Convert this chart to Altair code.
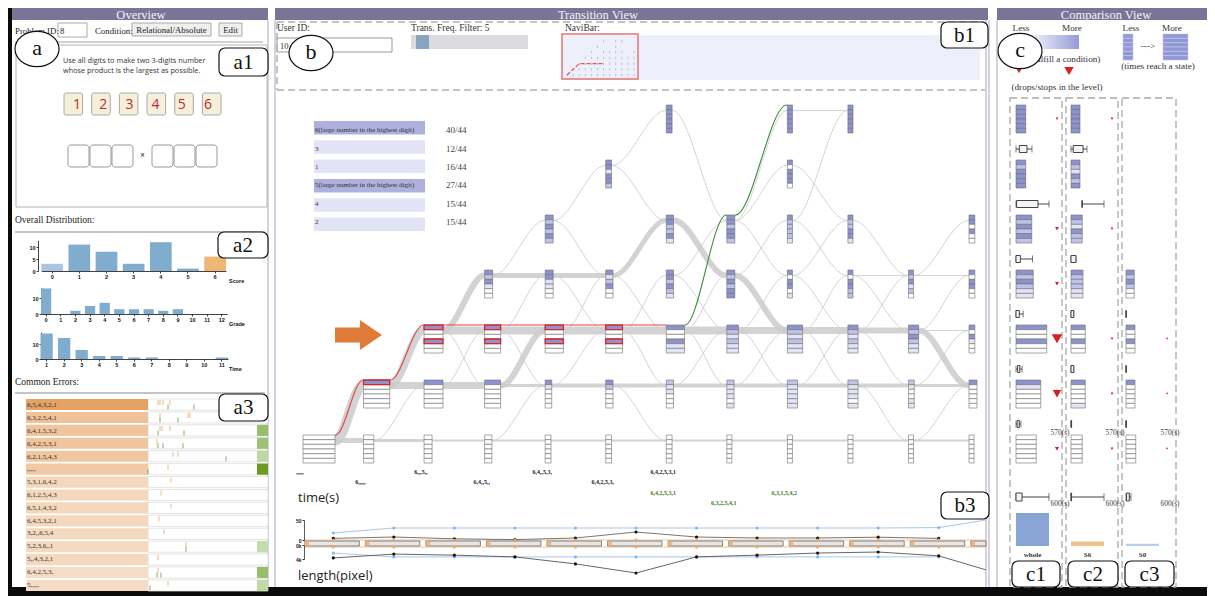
import altair as alt
import pandas as pd

# ============================== DATA ==============================
score_bins = ["0", "1", "2", "3", "4", "5", "6"]
score_counts = [3, 11, 8, 3, 12, 1, 6]
grade_bins = ["0", "1", "2", "3", "4", "5", "6", "7", "8", "9", "10", "11", "12"]
grade_counts = [16, 0, 2, 5, 7, 3, 3, 3, 2, 3, 0, 0, 0]
time_bins = ["1", "2", "3", "4", "5", "6", "7", "8", "9", "10", "11"]
time_counts = [17, 14, 6, 2, 2, 1, 1, 0, 0, 0, 1]

problem_digits = ["1", "2", "3", "4", "5", "6"]

error_labels = ["6,5,4,3,2,1", "6,3,2,5,4,1", "6,4,1,5,3,2", "6,4,2,5,3,1",
                "6,2,1,5,4,3", ",,,,,", "5,3,1,6,4,2", "6,1,2,5,4,3",
                "6,5,1,4,3,2", "6,4,5,3,2,1", "3,2,,6,5,4", "5,2,3,6,,1",
                "5,,4,3,2,1", "6,4,2,5,3,", "5,,,,,"]
error_freq = [30, 18, 17, 17, 16, 15, 10, 10, 10, 10, 9, 9, 9, 8, 8]
error_fix = [None, None, 0.55, 0.5, 0.2, 1.0, None, None, None, None, None, 0.15, None, 0.55, 0.18]
error_tick_row = [0, 0, 0, 0, 0, 0, 1, 1, 1, 1, 1, 2, 2, 2, 2, 2, 3, 3, 3, 3, 4, 4, 4,
                  5, 5, 6, 7, 8, 9, 10, 11, 11, 12, 13, 13, 13, 14, 14]
error_tick_time = [10, 12, 15, 22, 20, 46, 12, 40, 42, 12, 30, 12, 14, 22, 10, 36, 9, 10, 15, 35,
                   25, 30, 78, 20, 0, 23, 13, 23, 11, 16, 38, 38, 10, 10, 9, 13, 20, 2]
error_tick_kind = ["o", "o", "o", "o", "g", "g", "o", "o", "o", "g", "g", "o", "o", "o", "g", "g",
                   "o", "g", "g", "g", "o", "o", "g", "o", "g", "o", "o", "o", "o", "o", "o", "g",
                   "o", "o", "g", "g", "o", "g"]

hint_items = ["6(large number in the highest digit)", "3", "1",
              "5(large number in the highest digit)", "4", "2"]
hint_hits = [40, 12, 16, 27, 15, 15]
hint_total = 44

# (step, level, users, cell shades top->bottom)
transition_nodes = [
    (0, 0, 44, "000000"),
    (1, 0, 14, "000000"), (1, 1, 36, "300000"),
    (2, 0, 11, "000000"), (2, 1, 26, "300000"), (2, 2, 26, "300300"),
    (3, 0, 10, "000000"), (3, 1, 22, "300000"), (3, 2, 22, "300300"), (3, 3, 11, "323100"),
    (4, 0, 8, "000000"), (4, 1, 9, "310000"), (4, 2, 25, "300300"), (4, 3, 11, "331100"), (4, 4, 11, "323232"),
    (5, 0, 8, "000000"), (5, 1, 10, "320000"), (5, 2, 23, "300300"), (5, 3, 10, "312300"), (5, 5, 8, "331332"),
    (6, 0, 8, "000000"), (6, 1, 10, "211000"), (6, 2, 25, "300311"), (6, 3, 10, "332321"), (6, 4, 10, "332231"), (6, 6, 8, "333333"),
    (7, 0, 7, "000000"), (7, 1, 10, "211101"), (7, 2, 16, "321211"), (7, 3, 11, "323233"), (7, 4, 11, "332332"),
    (8, 0, 7, "000000"), (8, 1, 14, "211111"), (8, 2, 21, "321211"), (8, 3, 7, "303301"), (8, 4, 7, "322221"), (8, 5, 7, "303330"), (8, 6, 7, "333333"),
    (9, 0, 7, "000000"), (9, 1, 14, "211101"), (9, 2, 14, "321211"), (9, 3, 7, "303322"), (9, 4, 7, "322331"), (9, 6, 7, "333333"),
    (10, 0, 7, "000000"), (10, 1, 8, "210011"), (10, 2, 14, "323211"), (10, 3, 7, "323120"),
    (11, 0, 7, "000000"), (11, 1, 11, "300000"), (11, 2, 8, "303100"), (11, 3, 8, "303300"), (11, 4, 8, "330300"),
]
# (step, from level, to level, users on the transition)
transition_links = [
    (0, 0, 1, 10), (0, 0, 0, 5),
    (1, 1, 2, 8), (1, 1, 1, 7), (1, 0, 0, 3),
    (2, 2, 2, 8), (2, 1, 1, 7), (2, 2, 3, 6), (2, 0, 0, 2),
    (3, 2, 2, 8), (3, 1, 2, 6), (3, 1, 1, 3), (3, 3, 3, 5), (3, 0, 0, 2),
    (4, 2, 2, 8), (4, 1, 1, 4), (4, 3, 3, 5), (4, 0, 0, 2),
    (5, 2, 2, 8), (5, 1, 1, 4), (5, 3, 4, 5), (5, 0, 0, 2),
    (6, 2, 2, 8), (6, 1, 1, 4), (6, 4, 3, 6), (6, 0, 0, 2),
    (7, 2, 2, 7), (7, 1, 1, 4), (7, 3, 2, 6), (7, 0, 0, 2),
    (8, 2, 2, 7), (8, 1, 1, 4), (8, 0, 0, 2),
    (9, 2, 2, 6), (9, 1, 1, 4), (9, 0, 0, 2),
    (10, 2, 1, 6), (10, 1, 1, 3), (10, 0, 0, 2),
    (1, 0, 1, 1), (2, 1, 2, 1), (2, 2, 1, 1), (3, 2, 3, 1), (3, 2, 1, 1), (3, 3, 4, 1), (3, 0, 1, 1),
    (4, 2, 3, 1), (4, 3, 2, 1), (4, 4, 5, 1), (4, 4, 3, 1), (4, 1, 2, 1),
    (5, 2, 1, 1), (5, 2, 3, 1), (5, 5, 6, 1), (5, 5, 4, 1), (5, 3, 2, 1), (5, 1, 0, 1),
    (6, 2, 3, 1), (6, 3, 4, 1), (6, 1, 2, 1), (6, 6, 4, 1), (6, 3, 2, 1), (6, 2, 1, 1),
    (7, 4, 6, 1), (7, 4, 5, 1), (7, 4, 3, 1), (7, 2, 3, 1), (7, 1, 2, 1), (7, 3, 4, 1), (7, 2, 1, 1),
    (8, 6, 6, 1), (8, 4, 6, 1), (8, 5, 4, 1), (8, 4, 3, 1), (8, 3, 4, 1), (8, 2, 1, 1), (8, 1, 2, 1),
    (8, 2, 3, 1), (8, 3, 2, 1),
    (9, 4, 3, 1), (9, 3, 2, 1), (9, 2, 3, 1), (9, 1, 0, 1), (9, 3, 3, 1), (9, 2, 1, 1),
    (10, 3, 4, 1), (10, 2, 2, 1), (10, 1, 2, 1), (10, 3, 3, 1), (10, 0, 1, 1), (10, 2, 3, 1),
]
user_path = [(0, 0, 1), (1, 1, 2), (2, 2, 2), (3, 2, 2), (4, 2, 2), (5, 2, 2)]
user_path_cells = [(1, 1, 0), (2, 2, 0), (2, 2, 3), (3, 2, 0), (3, 2, 3), (4, 2, 0), (4, 2, 3), (5, 2, 0), (5, 2, 3)]
answer_path = [(6, 2, 4), (7, 4, 6)]

state_step = [0, 1, 2, 3, 4, 5, 6, 6, 7, 8]
state_text = [",,,,,", "6,,,,,", "6,,,5,,", "6,4,,5,,", "6,4,,5,3,", "6,4,2,5,3,",
              "6,4,2,5,3,1", "6,4,2,5,3,1", "6,3,2,5,4,1", "6,3,1,5,4,2"]
state_lane = [0, 1, 0, 1, 0, 1, 0, 2, 3, 2]
state_final = [False, False, False, False, False, False, False, True, True, True]

step_pos = [0.5, 1.5, 2.5, 3.5, 4.5, 5.5, 6.5, 7.5, 8.5, 9.5, 10.5, 11.28]
time_mean = [17.5, 30, 30, 30, 30, 30, 30, 30, 30, 30, 31, 50]
time_user = [4, 7.5, 3, 1, 5, 20, 7.5, 5, 5, 7, 4]
len_mean = [2.3, 3.4, 3.4, 3.4, 3.4, 3.4, 3.4, 3.4, 3.4, 3.4, 3.4]
len_user = [3.7, 2.6, 2.9, 3.4, 5.4, 8.0, 3.4, 2.9, 2.3, 2.0, 3.1, 7.1]

cmp_groups = ["whole", "S6", "S0"]
cmp_group_size = [44, 6, 3]
cmp_stack_group = [0, 0, 0, 0, 0, 0, 0, 1, 1, 1, 1, 1, 1, 1, 2, 2, 2, 2]
cmp_stack_level = [6, 5, 4, 3, 2, 1, 0, 6, 5, 4, 3, 2, 1, 0, 3, 2, 1, 0]
cmp_stack_visits = [13, 13, 21, 23, 41, 33, 27, 12, 12, 15, 16, 19, 19, 15, 11, 12, 12, 13]
cmp_stack_cells = ["333333", "323333", "323232", "323211", "300300", "310000", "000000",
                   "333333", "321323", "321322", "322211", "300300", "300001", "000000",
                   "323200", "300300", "300000", "000000"]
cmp_box_group = [0, 0, 0, 0, 0, 0, 1, 1, 1, 1, 1, 1, 2, 2, 2]
cmp_box_level = [5, 4, 3, 2, 1, 0, 5, 4, 3, 2, 1, 0, 2, 1, 0]
cmp_box_min = [0, 0, 0, 0, 0, 0, 0, 200, 0, 0, 0, 0, 0, 0, 0]
cmp_box_q1 = [60, 10, 0, 0, 30, 20, 40, 200, 0, 0, 0, 0, 0, 0, 0]
cmp_box_q3 = [200, 400, 80, 60, 70, 60, 220, 205, 90, 50, 50, 10, 5, 5, 5]
cmp_box_max = [290, 600, 300, 130, 110, 90, 290, 600, 90, 50, 50, 10, 5, 5, 5]
cmp_total_min = [0, 0, 0]
cmp_total_q1 = [0, 0, 10]
cmp_total_q3 = [110, 10, 60]
cmp_total_max = [600, 600, 90]
cmp_drop_group = [0, 0, 0, 0, 0, 0, 1, 1, 1, 1, 1, 2, 2, 2]
cmp_drop_level = [6, 4, 3, 2, 1, 0, 6, 4, 2, 1, 0, 2, 1, 0]
cmp_drop_count = [0.4, 0.8, 0.8, 6, 4, 1, 0.4, 0.4, 0.4, 0.4, 0.4, 0.3, 0.3, 0.3]
cmp_level_time = "570(s)"
cmp_total_time = "600(s)"

# ============================== STYLE / LAYOUT ==============================
W, H = 1199, 588
SERIF, SANS, ARIAL = "Liberation Serif", "Open Sans", "Liberation Sans"
PANEL, EDGE = "#7a7496", "#a8a5bf"
SHADES = ["#ffffff", "#e3e5f6", "#bfc3ea", "#8d93cf"]


def px(v):
    return v - 8


def py(v):
    return v - 8


layers = []


def add(*cs):
    layers.extend(cs)


def _frame(rows, cols, xs, ys):
    df = pd.DataFrame(rows, columns=cols)
    for c in xs:
        df[c] = df[c] - 8
    for c in ys:
        df[c] = df[c] - 8
    return df


def XI(f):
    return alt.X(f"{f}:Q", scale=None, axis=None)


def YI(f):
    return alt.Y(f"{f}:Q", scale=None, axis=None)


def boxes(rows, **kw):
    df = _frame(rows, ["x", "y", "x2", "y2"], ["x", "x2"], ["y", "y2"])
    return alt.Chart(df).mark_rect(**kw).encode(x=XI("x"), x2="x2:Q", y=YI("y"), y2="y2:Q")


def segs(rows, **kw):
    df = _frame(rows, ["x", "y", "x2", "y2"], ["x", "x2"], ["y", "y2"])
    return alt.Chart(df).mark_rule(**kw).encode(x=XI("x"), x2="x2:Q", y=YI("y"), y2="y2:Q")


def words(rows, **kw):
    df = _frame(rows, ["x", "y", "t"], ["x"], ["y"])
    return alt.Chart(df).mark_text(**kw).encode(x=XI("x"), y=YI("y"), text="t:N")


def spots(rows, **kw):
    df = _frame(rows, ["x", "y"], ["x"], ["y"])
    return alt.Chart(df).mark_point(**kw).encode(x=XI("x"), y=YI("y"))


def lin(dom, r0, r1):
    return alt.Scale(domain=dom, range=[r0, r1], nice=False, zero=False)


# ---------------- panels ----------------
add(boxes([(12, 8, 268, 20), (275, 8, 988, 20), (997, 8, 1207, 20)], color=PANEL))
add(words([(141, 14.5, "Overview"), (598, 14.5, "Transition View"), (1106, 14.5, "Comparison View")],
          font=SERIF, fontSize=12.5, color="#f4f2fb"))
add(segs([(268, 20, 268, 587), (275, 20, 275, 587), (986, 20, 986, 587), (989, 20, 989, 587),
          (997, 20, 997, 587)], color=EDGE, strokeWidth=1))
add(boxes([(8, 8, 12, 596), (8, 587, 1207, 596)], color="#0b0b0b"))

# ---------------- overview header / problem ----------------
add(boxes([(58, 23, 87, 37)], fill="white", stroke="#aaaaaa", strokeWidth=1))
add(boxes([(132, 23, 211, 36), (219, 23, 242, 36)], fill="#efefef", stroke="#aaaaaa", strokeWidth=1))
add(words([(15, 31, "Problem ID:"), (60, 31, "8"), (95, 31, "Condition:")],
          font=SERIF, fontSize=8.8, color="#222", align="left"))
add(words([(171.5, 30, "Relational/Absolute"), (230.5, 30, "Edit")], font=SERIF, fontSize=8.8, color="#222"))
add(segs([(15, 42, 263, 42)], color="#c2c2c2", strokeWidth=1.5))
add(boxes([(16, 45, 267, 207)], fillOpacity=0, stroke="#b5b5b5", strokeWidth=1))
add(words([(63, 60.5, "Use all digits to make two 3-digits number"),
           (63, 70.5, "whose product is the largest as possible.")],
          font=SANS, fontSize=7.3, color="#333", align="left"))

digit_df = pd.DataFrame({"d": problem_digits})
digit_x = alt.Scale(domain=problem_digits, range=[px(64), px(221)], paddingInner=0.33, paddingOuter=0)
add(alt.Chart(digit_df).mark_rect(fill="#f6f0da", stroke="#a8a8a8", strokeWidth=1, cornerRadius=2).encode(
    x=alt.X("d:N", scale=digit_x, axis=None), y=alt.value(py(93)), y2=alt.value(py(115))))
add(alt.Chart(digit_df).mark_text(font=SANS, fontSize=14, color="#c0282d").encode(
    x=alt.X("d:N", scale=digit_x, axis=None), y=alt.value(py(104.5)), text="d:N"))
add(boxes([(68, 145, 89, 167), (90, 145, 111, 167), (112, 145, 133, 167),
           (152, 145, 173, 167), (174, 145, 195, 167), (196, 145, 217, 167)],
          fill="white", stroke="#999999", strokeWidth=1, cornerRadius=3))
add(words([(142.5, 156, "×")], font=SANS, fontSize=8, fontWeight="bold", color="#555"))

# ---------------- overall distribution ----------------
add(words([(15, 220, "Overall Distribution:"), (15, 382, "Common Errors:")],
          font=SERIF, fontSize=9.5, color="#222", align="left"))
add(segs([(15, 232, 265, 232), (15, 393, 265, 393)], color="#c4c4c4", strokeWidth=2))

AX = dict(labelFont=ARIAL, labelFontSize=5.5, labelFontWeight="bold", labelColor="#111",
          tickSize=2, tickWidth=0.8, tickColor="#111", domainColor="#111", domainWidth=0.8,
          labelPadding=1, grid=False, title=None)


def hist(bins, counts, colors, x0, x1, pad, base, ymax, pxu, yticks, axis_x):
    df = pd.DataFrame({"bin": bins, "n": counts, "c": colors})
    return alt.Chart(df).mark_bar().encode(
        x=alt.X("bin:N", sort=None,
                scale=alt.Scale(domain=bins, range=[px(x0), px(x1)], paddingInner=pad, paddingOuter=0),
                axis=alt.Axis(orient="bottom", offset=py(base) - H, labelAngle=0, **AX)),
        y=alt.Y("n:Q", scale=lin([0, ymax], py(base), py(base - ymax * pxu)),
                axis=alt.Axis(orient="left", offset=-px(axis_x), values=yticks, **AX)),
        color=alt.Color("c:N", scale=None))


score_colors = ["#a9c6e1" if b == "0" else "#efb676" if b == "6" else "#80adcd" for b in score_bins]
add(hist(score_bins, score_counts, score_colors, 41.3, 226, 0.2, 271, 12.8, 2.4, [0, 5, 10], 38))
add(hist(grade_bins, grade_counts, ["#80adcd"] * len(grade_bins), 41, 227, 0.3, 314, 16.5, 1.6, [0, 10], 41))
add(hist(time_bins, time_counts, ["#80adcd"] * len(time_bins), 40.5, 228, 0.3, 359, 18, 1.5, [0, 10], 41))
add(words([(229, 281, "Score"), (229, 324, "Grade"), (229, 369, "Time")],
          font=ARIAL, fontSize=5.5, fontWeight="bold", color="#111", align="left"))

# ---------------- common errors ----------------
err_df = pd.DataFrame({"row": list(range(15)), "label": error_labels, "freq": error_freq, "fix": error_fix})
ERY = alt.Scale(domain=list(range(15)), range=[py(399), py(591)], paddingInner=0.14, paddingOuter=0)
ETX = lin([0, 120], px(148), px(268))
add(alt.Chart(err_df).mark_rect(fill="white", stroke="#dddddd", strokeWidth=0.8).encode(
    x=alt.value(px(148)), x2=alt.value(px(268)), y=alt.Y("row:O", scale=ERY, axis=None)))
add(alt.Chart(err_df).mark_rect().encode(
    x=alt.value(px(26)), x2=alt.value(px(148)), y=alt.Y("row:O", scale=ERY, axis=None),
    color=alt.Color("freq:Q", scale=alt.Scale(domain=[8, 30], range=["#f6dcc4", "#e4a264"]), legend=None)))
add(alt.Chart(err_df.dropna(subset=["fix"])).mark_rect().encode(
    x=alt.value(px(257)), x2=alt.value(px(268)), y=alt.Y("row:O", scale=ERY, axis=None),
    color=alt.Color("fix:Q", scale=alt.Scale(domain=[0, 1], range=["#d3e7c3", "#6b9b22"]), legend=None)))
add(alt.Chart(err_df).mark_text(font=SERIF, fontSize=7, color="#333", align="left").encode(
    x=alt.value(px(27)), y=alt.Y("row:O", scale=ERY, axis=None), text="label:N"))
tick_df = pd.DataFrame({"row": error_tick_row, "t": error_tick_time, "k": error_tick_kind})
add(alt.Chart(tick_df[tick_df.k == "o"]).mark_tick(orient="vertical", size=5, thickness=1.3,
                                                   color="#f0ae74", yOffset=-2).encode(
    x=alt.X("t:Q", scale=ETX, axis=None), y=alt.Y("row:O", scale=ERY, axis=None)))
add(alt.Chart(tick_df[tick_df.k == "g"]).mark_tick(orient="vertical", size=5, thickness=1.3,
                                                   color="#6faa4c", yOffset=2.5).encode(
    x=alt.X("t:Q", scale=ETX, axis=None), y=alt.Y("row:O", scale=ERY, axis=None)))

# ---------------- transition view header ----------------
add(words([(277, 28, "User ID:"), (411, 28, "Trans. Freq. Filter: 5"), (565, 28, "NaviBar:")],
          font=SERIF, fontSize=9.5, color="#333", align="left"))
add(boxes([(277, 38, 392, 52)], fill="white", stroke="#999999", strokeWidth=1))
add(words([(280, 45.5, "10")], font=SERIF, fontSize=8.5, color="#333", align="left"))
add(boxes([(411, 35, 528, 49)], fill="#dcdcde"))
add(boxes([(416, 35, 429, 49)], fill="#89a3c2"))
add(boxes([(562, 35, 980, 80)], fill="#edf0fa"))
add(segs([(277, 22, 985, 22), (277, 90, 985, 90), (277, 22, 277, 90)],
         color="#b0b0b0", strokeWidth=1.5, strokeDash=[7, 4]))

MX = lin([0, 11], px(567), px(634))
MY = lin([0, 6], py(75), py(41))
nodes_df = pd.DataFrame(transition_nodes, columns=["col", "level", "users", "cells"])
add(alt.Chart(nodes_df).mark_tick(orient="vertical", size=2.5, thickness=0.8, color="#9aa0cc").encode(
    x=alt.X("col:Q", scale=MX, axis=None), y=alt.Y("level:Q", scale=MY, axis=None)))
mini_path = pd.DataFrame({"col": [0] + [p[0] + 1 for p in user_path],
                          "level": [0] + [p[2] for p in user_path], "o": list(range(len(user_path) + 1))})
add(alt.Chart(mini_path).mark_line(color="#e0544f", strokeWidth=1.2, strokeDash=[4, 2]).encode(
    x=alt.X("col:Q", scale=MX, axis=None), y=alt.Y("level:Q", scale=MY, axis=None), order="o:Q"))
add(boxes([(562, 34, 638, 79)], fillOpacity=0, stroke="#e57373", strokeWidth=1.5))

# ---------------- hint list ----------------
hint_df = pd.DataFrame({"i": list(range(6)), "item": hint_items, "hit": hint_hits})
hint_df["ratio"] = hint_df["hit"] / hint_total
hint_df["frac"] = [f"{h}/{hint_total}" for h in hint_hits]
HY = alt.Scale(domain=list(range(6)), range=[py(121), py(231)], paddingInner=0.3, paddingOuter=0)
add(alt.Chart(hint_df).mark_rect().encode(
    x=alt.value(px(314)), x2=alt.value(px(425)), y=alt.Y("i:O", scale=HY, axis=None),
    color=alt.Color("ratio:Q", scale=alt.Scale(type="threshold", domain=[0.5],
                                               range=["#e2e4f5", "#aeb1dd"]), legend=None)))
add(alt.Chart(hint_df).mark_text(font=SERIF, fontSize=7, color="#333", align="left").encode(
    x=alt.value(px(315)), y=alt.Y("i:O", scale=HY, axis=None), text="item:N"))
add(alt.Chart(hint_df).mark_text(font=SERIF, fontSize=9, color="#444", align="left").encode(
    x=alt.value(px(446)), y=alt.Y("i:O", scale=HY, axis=None), text="frac:N"))

# ---------------- transition graph ----------------
NX = lin([0, 11], px(303), px(969))
NY = lin([0, 6], py(435), py(105))
COL_PX, LEVEL_PX, CELL_PX, USER_PX = (969 - 303) / 11, 55.0, 4.67, 32 / 44
CELL_U = CELL_PX / LEVEL_PX
node_w = {(c, l): u * USER_PX / COL_PX for c, l, u, _ in transition_nodes}


def curves(triples, weights, yoff):
    # each link: leaves the right side of its node and enters the next step's node
    rows = []
    for k, ((c, la, lb), w) in enumerate(zip(triples, weights)):
        xa, xb = c + node_w.get((c, la), 0.1), c + 1
        ya, yb = la - yoff, lb - yoff
        for j, (x, y) in enumerate([(xa, ya), (xa + 0.01, ya), (xb - 0.01, yb), (xb, yb)]):
            rows.append({"id": k, "ord": j, "x": x, "y": y, "w": w})
    return pd.DataFrame(rows)


def curve_layer(df, **kw):
    return alt.Chart(df).mark_line(interpolate="monotone", strokeCap="butt", **kw).encode(
        x=alt.X("x:Q", scale=NX, axis=None), y=alt.Y("y:Q", scale=NY, axis=None),
        detail="id:N", order="ord:Q", strokeWidth=alt.StrokeWidth("w:Q", scale=None))


thin = [l for l in transition_links if l[3] <= 1]
thick = [l for l in transition_links if l[3] > 1]
thin_df = curves([l[:3] for l in thin], [0.9] * len(thin), 0.1)
thick_df = curves([l[:3] for l in thick], [l[3] for l in thick], 0.1)
add(curve_layer(thin_df, color="#cfcfcf"))
add(curve_layer(thick_df, color="#cbcbcb", opacity=0.85))

cell_rows = []
for c, l, u, s in transition_nodes:
    w = node_w[(c, l)]
    for i, ch in enumerate(s):
        cell_rows.append({"x": c, "x2": c + w, "y": l - i * CELL_U, "y2": l - (i + 1) * CELL_U, "s": ch})
cell_df = pd.DataFrame(cell_rows)
add(alt.Chart(cell_df).mark_rect(stroke="#6f6f6f", strokeWidth=0.6).encode(
    x=alt.X("x:Q", scale=NX, axis=None), x2="x2:Q", y=alt.Y("y:Q", scale=NY, axis=None), y2="y2:Q",
    color=alt.Color("s:N", scale=alt.Scale(domain=["0", "1", "2", "3"], range=SHADES), legend=None)))

red_rows = []
for c, l, i in user_path_cells:
    red_rows.append({"x": c, "x2": c + node_w[(c, l)], "y": l - i * CELL_U, "y2": l - (i + 1) * CELL_U})
add(alt.Chart(pd.DataFrame(red_rows)).mark_rect(fillOpacity=0, stroke="#d8262c", strokeWidth=1.3).encode(
    x=alt.X("x:Q", scale=NX, axis=None), x2="x2:Q", y=alt.Y("y:Q", scale=NY, axis=None), y2="y2:Q"))
add(curve_layer(curves(user_path, [1.1] * len(user_path), 0.0), color="#e0473f"))
add(curve_layer(curves(answer_path, [1.1] * len(answer_path), 0.0), color="#3f8f3a"))

ARROW = "M-1,-0.32L0.06,-0.32L0.06,-0.64L1,0L0.06,0.64L0.06,0.32L-1,0.32Z"
add(spots([(358.5, 335)], shape=ARROW, size=2209, filled=True, fill="#e07b39", strokeWidth=0, opacity=1))

state_df = pd.DataFrame({"col": state_step, "t": state_text, "lane": state_lane,
                         "c": ["#3b7d23" if f else "#222222" for f in state_final]})
add(alt.Chart(state_df).mark_text(font=SERIF, fontSize=6, fontWeight="bold", dx=-3).encode(
    x=alt.X("col:Q", scale=NX, axis=None), y=alt.Y("lane:Q", scale=lin([0, 3], py(472), py(503)), axis=None),
    text="t:N", color=alt.Color("c:N", scale=None)))

# ---------------- time / length strip ----------------
add(words([(298, 498, "time(s)"), (298, 576, "length(pixel)")], font=SANS, fontSize=13, color="#222",
          align="left"))
add(segs([(305, 540, 987, 540), (305, 547, 987, 547)], color="#f3c493", strokeWidth=1.2))
band_df = pd.DataFrame({"i": list(range(12))})
band_df["x"] = band_df["i"] + 0.03
band_df["x2"] = (band_df["i"] + 0.93).clip(upper=11.28)
band_df["o2"] = band_df["i"] + 0.1
add(alt.Chart(band_df).mark_rect(fill="#e6e6e6", stroke="#555555", strokeWidth=0.7).encode(
    x=alt.X("x:Q", scale=NX, axis=None), x2="x2:Q", y=alt.value(py(541)), y2=alt.value(py(546))))
add(alt.Chart(band_df).mark_rect(fill="#f2b27e").encode(
    x=alt.X("x:Q", scale=NX, axis=None), x2="o2:Q", y=alt.value(py(541.5)), y2=alt.value(py(545.5))))

TY = lin([0, 50], py(540), py(520))
LY = lin([0, 4], py(545), py(559))
SAX = dict(labelFont=ARIAL, labelFontSize=5, labelFontWeight="bold", labelColor="#222", tickSize=2,
           tickColor="#333", domainColor="#333", domainWidth=0.8, labelPadding=1, grid=False, title=None)
tm_df = pd.DataFrame({"s": step_pos, "v": time_mean})
add(alt.Chart(tm_df).mark_line(color="#a9c8e6", strokeWidth=1).encode(
    x=alt.X("s:Q", scale=NX, axis=None),
    y=alt.Y("v:Q", scale=TY, axis=alt.Axis(orient="left", offset=-px(304), values=[0, 50], **SAX))))
add(alt.Chart(tm_df.iloc[:11]).mark_point(filled=True, size=10, color="#8fb6de", opacity=1).encode(
    x=alt.X("s:Q", scale=NX, axis=None), y=alt.Y("v:Q", scale=TY, axis=None)))
tu_df = pd.DataFrame({"s": step_pos[:11], "v": time_user})
add(alt.Chart(tu_df).mark_line(color="#555555", strokeWidth=0.8).encode(
    x=alt.X("s:Q", scale=NX, axis=None), y=alt.Y("v:Q", scale=TY, axis=None)))
add(alt.Chart(tu_df).mark_point(filled=True, size=10, color="#111", opacity=1).encode(
    x=alt.X("s:Q", scale=NX, axis=None), y=alt.Y("v:Q", scale=TY, axis=None)))
dots_df = pd.DataFrame({"s": step_pos[:11]})
for yy in (540, 547):
    add(alt.Chart(dots_df).mark_point(filled=True, size=9, color="#f0a860", opacity=1).encode(
        x=alt.X("s:Q", scale=NX, axis=None), y=alt.value(py(yy))))
lm_df = pd.DataFrame({"s": step_pos[:11], "v": len_mean})
add(alt.Chart(lm_df).mark_line(color="#a9c8e6", strokeWidth=1).encode(
    x=alt.X("s:Q", scale=NX, axis=None), y=alt.Y("v:Q", scale=LY, axis=None)))
add(alt.Chart(lm_df).mark_point(filled=True, size=10, color="#8fb6de", opacity=1).encode(
    x=alt.X("s:Q", scale=NX, axis=None), y=alt.Y("v:Q", scale=LY, axis=None)))
lu_df = pd.DataFrame({"s": step_pos, "v": len_user})
add(alt.Chart(lu_df).mark_line(color="#555555", strokeWidth=0.9).encode(
    x=alt.X("s:Q", scale=NX, axis=None),
    y=alt.Y("v:Q", scale=LY, axis=alt.Axis(orient="left", offset=-px(304), values=[0, 4],
                                           labelExpr="datum.value + 'k'", **SAX))))
add(alt.Chart(lu_df.iloc[:11]).mark_point(filled=True, size=10, color="#111", opacity=1).encode(
    x=alt.X("s:Q", scale=NX, axis=None), y=alt.Y("v:Q", scale=LY, axis=None)))

# ---------------- comparison view ----------------
add(words([(1021, 28, "Less"), (1072, 28, "More"), (1131, 28, "Less"), (1172, 28, "More"),
           (1148, 46, "--->"), (1158, 66, "(times reach a state)"), (1057, 87, "(drops/stops in the level)")],
          font=SERIF, fontSize=9.2, color="#333"))
add(words([(1030, 59, "(fulfill a condition)")], font=SERIF, fontSize=9.2, color="#333", align="left"))
grad = alt.LinearGradient(gradient="linear", x1=0, x2=1, y1=0, y2=0,
                          stops=[alt.GradientStop(color="#f4f5fc", offset=0),
                                 alt.GradientStop(color="#959bd6", offset=1)])
add(boxes([(1030, 35, 1079, 49)], fill=grad))
leg_cells = []
for x0, x1 in ((1123, 1133), (1163, 1188)):
    for i in range(6):
        leg_cells.append((x0, 34 + i * 26 / 6, x1, 34 + (i + 1) * 26 / 6))
add(boxes(leg_cells, fill="#8f97d4", stroke="#c3c7ee", strokeWidth=0.6))
add(spots([(1019, 71)], shape="triangle-down", size=25, filled=True, color="#d62020", opacity=1))
add(spots([(1069, 71)], shape="triangle-down", size=90, filled=True, color="#d62020", opacity=1))
add(boxes([(1010, 98, 1062, 587), (1066, 98, 1118, 587), (1122, 98, 1176, 587)],
          fillOpacity=0, stroke="#a9a9a9", strokeWidth=1.3, strokeDash=[7, 4]))

CX = lin([0, 2], px(1016), px(1126))
CMP_PX = 55.0
cc_rows = []
for g, l, v, s in zip(cmp_stack_group, cmp_stack_level, cmp_stack_visits, cmp_stack_cells):
    w = v * 0.75 / CMP_PX
    for i, ch in enumerate(s):
        cc_rows.append({"x": g, "x2": g + w, "y": l - i * CELL_U, "y2": l - (i + 1) * CELL_U, "s": ch})
add(alt.Chart(pd.DataFrame(cc_rows)).mark_rect(stroke="#6f6f6f", strokeWidth=0.6).encode(
    x=alt.X("x:Q", scale=CX, axis=None), x2="x2:Q", y=alt.Y("y:Q", scale=NY, axis=None), y2="y2:Q",
    color=alt.Color("s:N", scale=alt.Scale(domain=["0", "1", "2", "3"], range=SHADES), legend=None)))

SEC = 33 / 600 / CMP_PX  # seconds -> group units
bx = pd.DataFrame({"g": cmp_box_group, "lvl": cmp_box_level, "mn": cmp_box_min, "q1": cmp_box_q1,
                   "q3": cmp_box_q3, "mx": cmp_box_max})
bx["y"] = bx["lvl"] + 0.2
for c in ("mn", "q1", "q3", "mx"):
    bx[c + "_x"] = bx["g"] + bx[c] * SEC
add(alt.Chart(bx).mark_rule(color="#444", strokeWidth=1).encode(
    x=alt.X("mn_x:Q", scale=CX, axis=None), x2="mx_x:Q", y=alt.Y("y:Q", scale=NY, axis=None)))
for c in ("mn_x", "mx_x"):
    add(alt.Chart(bx).mark_tick(orient="vertical", size=7, thickness=1, color="#444").encode(
        x=alt.X(f"{c}:Q", scale=CX, axis=None), y=alt.Y("y:Q", scale=NY, axis=None)))
add(alt.Chart(bx).mark_rect(fill="#f4f4f4", stroke="#444", strokeWidth=1, height=7).encode(
    x=alt.X("q1_x:Q", scale=CX, axis=None), x2="q3_x:Q", y=alt.Y("y:Q", scale=NY, axis=None)))

tb = pd.DataFrame({"g": [0, 1, 2], "mn": cmp_total_min, "q1": cmp_total_q1, "q3": cmp_total_q3,
                   "mx": cmp_total_max})
for c in ("mn", "q1", "q3", "mx"):
    tb[c + "_x"] = tb["g"] + tb[c] * SEC
add(alt.Chart(tb).mark_rule(color="#444", strokeWidth=1).encode(
    x=alt.X("mn_x:Q", scale=CX, axis=None), x2="mx_x:Q", y=alt.value(py(497))))
for c in ("mn_x", "mx_x"):
    add(alt.Chart(tb).mark_tick(orient="vertical", size=8, thickness=1, color="#444").encode(
        x=alt.X(f"{c}:Q", scale=CX, axis=None), y=alt.value(py(497))))
add(alt.Chart(tb).mark_rect(fill="#f4f4f4", stroke="#444", strokeWidth=1).encode(
    x=alt.X("q1_x:Q", scale=CX, axis=None), x2="q3_x:Q", y=alt.value(py(493)), y2=alt.value(py(501))))

lab = pd.DataFrame({"g": [0, 1, 2]})
lab["x"] = lab["g"] + 44 / CMP_PX
lab["a"] = cmp_level_time
lab["b"] = cmp_total_time
add(alt.Chart(lab).mark_text(font=SERIF, fontSize=7.5, color="#444").encode(
    x=alt.X("x:Q", scale=CX, axis=None), y=alt.value(py(433)), text="a:N"))
add(alt.Chart(lab).mark_text(font=SERIF, fontSize=7.5, color="#444").encode(
    x=alt.X("x:Q", scale=CX, axis=None), y=alt.value(py(504)), text="b:N"))

dr = pd.DataFrame({"g": cmp_drop_group, "lvl": cmp_drop_level, "n": cmp_drop_count})
dr["x"] = dr["g"] + 41 / CMP_PX
dr["y"] = dr["lvl"] - 0.25
add(alt.Chart(dr).mark_point(shape="triangle-down", filled=True, color="#d62020", opacity=1).encode(
    x=alt.X("x:Q", scale=CX, axis=None), y=alt.Y("y:Q", scale=NY, axis=None),
    size=alt.Size("n:Q", scale=alt.Scale(domain=[0, 6], range=[0, 110]), legend=None)))

sz = pd.DataFrame({"g": [0, 1, 2], "name": cmp_groups, "n": cmp_group_size,
                   "c": ["#88a5d5", "#f1c18c", "#b8d1ea"]})
sz["x2"] = sz["g"] + 33 / CMP_PX
sz["xm"] = sz["g"] + 16.5 / CMP_PX
sz["z"] = 0
add(alt.Chart(sz).mark_rect().encode(
    x=alt.X("g:Q", scale=CX, axis=None), x2="x2:Q",
    y=alt.Y("n:Q", scale=lin([0, 44], py(546), py(513)), axis=None), y2="z:Q",
    color=alt.Color("c:N", scale=None)))
add(alt.Chart(sz).mark_text(font=SERIF, fontSize=7, fontWeight="bold", color="#333").encode(
    x=alt.X("xm:Q", scale=CX, axis=None), y=alt.value(py(555)), text="name:N"))

# ---------------- annotation callouts ----------------
add(boxes([(219, 48, 268, 76), (218, 232, 268, 258), (219, 394, 268, 421), (941, 22, 988, 48),
           (941, 492, 989, 519), (1012, 561, 1060, 587), (1068, 561, 1118, 587), (1125, 561, 1174, 587)],
          fill="white", stroke="#111", strokeWidth=1.2, cornerRadius=6))
add(words([(243.5, 62.5, "a1"), (243, 245.5, "a2"), (243.5, 408, "a3"), (964.5, 35.5, "b1"),
           (965, 506, "b3"), (1036, 574.5, "c1"), (1093, 574.5, "c2"), (1149.5, 574.5, "c3")],
          font=SERIF, fontSize=21, color="#111"))
ELLIPSE = "M-1,0A1,0.8,0,1,1,1,0A1,0.8,0,1,1,-1,0Z"
add(spots([(37, 49), (311, 53), (1020, 51)], shape=ELLIPSE, size=1936, filled=True, fill="white",
          stroke="#111", strokeWidth=1.2, opacity=1))
add(words([(37, 48, "a"), (311, 52, "b"), (1020, 50, "c")], font=SERIF, fontSize=22, color="#111"))

chart = alt.layer(*layers).resolve_scale(
    x="independent", y="independent", color="independent", size="independent",
    strokeWidth="independent"
).properties(
    width=W, height=H, padding=0, autosize=alt.AutoSizeParams(type="none")
).configure_view(stroke=None)

chart.save("out.html", embed_options={"renderer": "svg", "actions": False})
